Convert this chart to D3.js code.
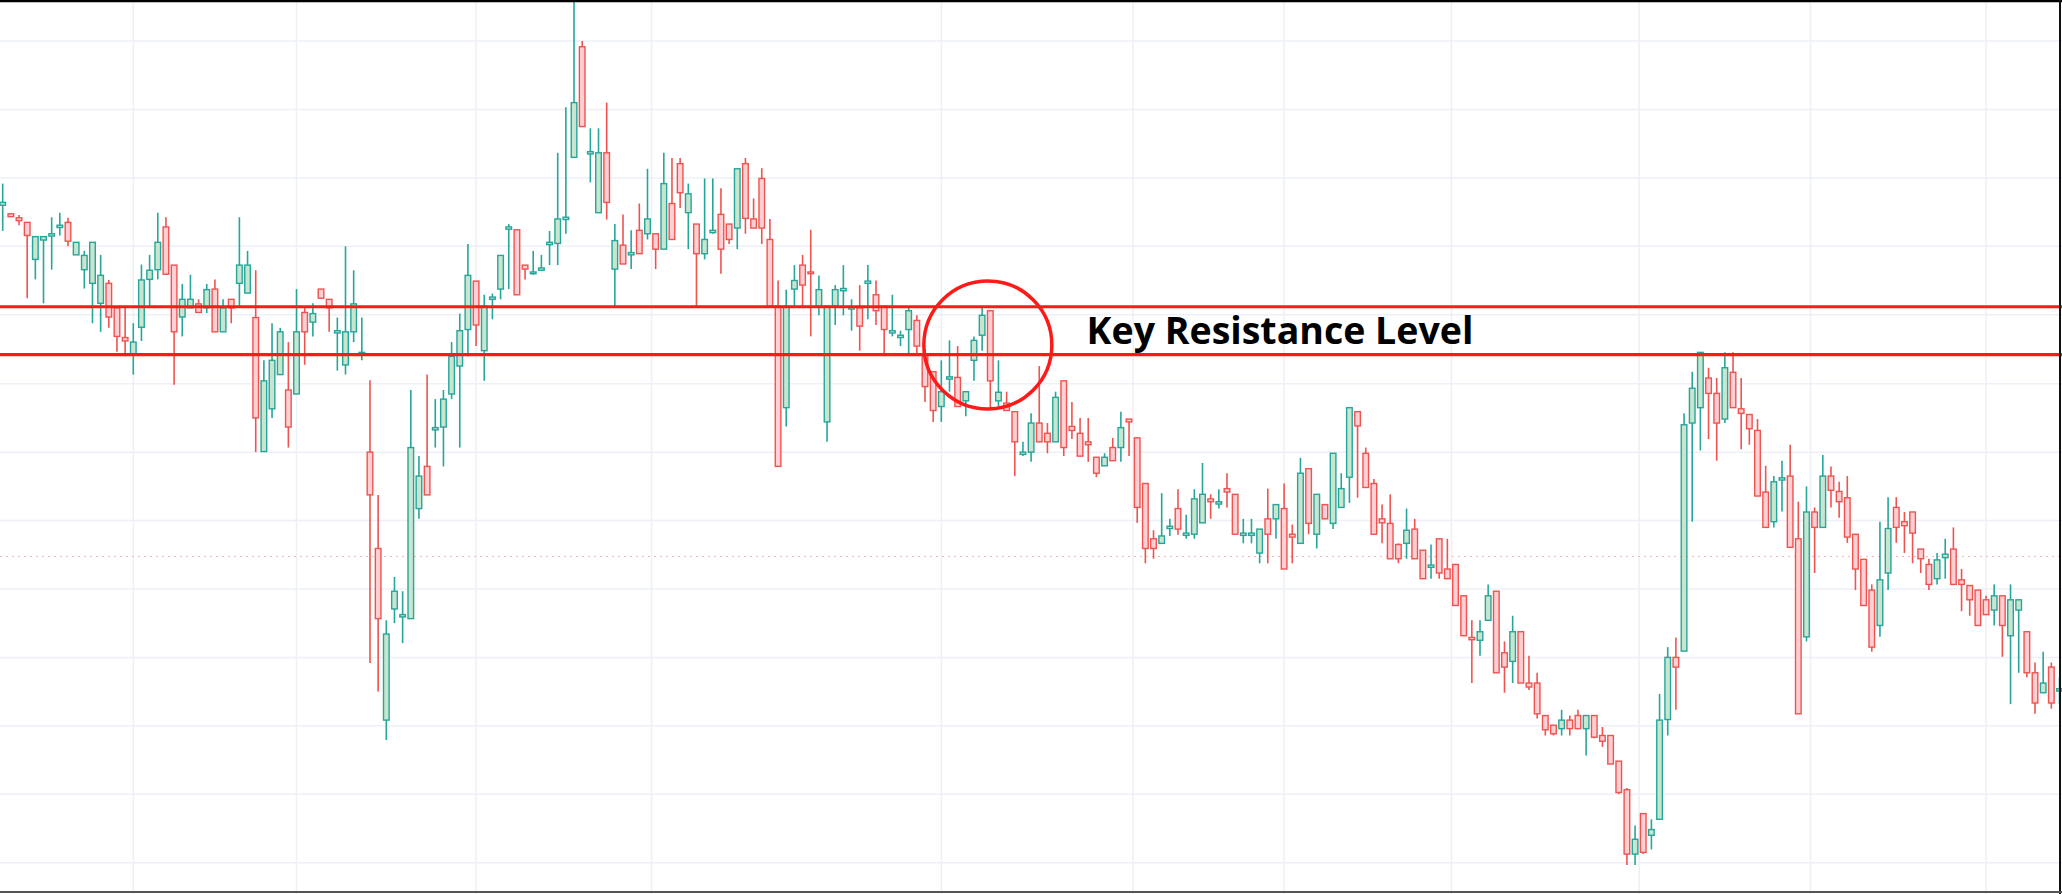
<!DOCTYPE html>
<html>
<head>
<meta charset="utf-8">
<script src="https://cdn.jsdelivr.net/npm/d3@7"></script>
<style>
  html, body { margin: 0; padding: 0; background: #fff; }
  svg { display: block; }
</style>
</head>
<body>
<div id="chart"></div>
<script>
// candle prices (index 1..253)
const opens = [1240,1225,1218,1210,1145,1179,1186,1201,1210,1153,1127,1103,1068,1103,1060,1008,977,1026,1110,1127,
  1202,1135,1044,1060,1067,1060,1093,1018,1075,1103,1086,1043,808,883,943,916,909,1052,1035,1093,
  1075,1016,960,1018,978,807,638,337,532,518,515,708,782,846,851,909,958,1022,1107,985,
  1075,1093,1198,1197,1135,1120,1126,1171,1173,1215,1324,1518,1330,1227,1332,1128,1170,1153,1196,1190,
  1190,1163,1243,1313,1227,1207,1155,1192,1224,1207,1200,1313,1216,1287,1180,1063,885,1093,1135,1123,
  1063,860,1063,1090,1058,1060,1103,1083,1063,1016,1008,1022,1038,978,948,887,935,938,897,968,
  1012,1055,897,893,878,803,807,858,840,825,932,852,840,825,798,783,815,815,865,832,
  752,655,647,673,708,661,663,683,725,716,743,733,661,661,630,690,690,708,663,647,
  778,663,715,682,710,763,878,805,752,690,682,645,647,672,635,605,655,602,610,555,
  482,477,512,563,455,440,492,402,402,345,328,322,337,345,322,345,310,310,265,215,
  102,173,135,163,338,447,458,858,885,937,910,865,947,883,873,845,737,685,758,765,
  655,483,702,675,765,738,727,663,619,565,503,595,710,685,702,637,610,585,622,637,
  583,573,565,548,530,555,485,530,492,420,385,430,388];
const highs = [1278,1225,1223,1210,1185,1185,1219,1227,1218,1175,1160,1175,1153,1109,1060,1060,1033,1136,1153,1227,
  1219,1135,1102,1118,1075,1102,1110,1075,1075,1219,1160,1126,968,1033,1025,1000,1093,1060,1068,1093,
  1075,1043,1168,1126,1043,933,732,512,588,563,916,800,943,900,916,1000,1050,1172,1107,1083,
  1085,1152,1207,1197,1135,1160,1153,1195,1332,1412,1600,1528,1375,1375,1420,1207,1224,1196,1243,1304,
  1190,1332,1323,1323,1278,1207,1287,1287,1270,1207,1304,1323,1252,1305,1216,1108,1092,1135,1153,1197,
  1117,1063,1100,1135,1075,1100,1135,1108,1063,1083,1020,1063,1047,988,948,968,1003,993,913,1010,
  1063,1055,968,913,878,825,875,958,858,913,932,895,867,867,798,805,832,878,865,832,
  752,670,735,690,742,697,742,788,733,742,770,733,690,690,672,743,715,752,680,797,
  778,733,715,805,770,885,878,815,760,715,733,647,708,690,635,645,655,655,610,555,
  512,512,575,563,475,520,492,450,420,345,328,355,345,355,345,345,325,310,265,218,
  152,173,163,383,465,482,875,948,982,955,937,982,982,937,873,865,783,765,792,820,
  720,747,710,802,782,755,765,663,619,575,685,728,728,702,702,637,620,630,655,675,
  602,573,565,555,575,555,575,548,492,438,457,438,412];
const lows = [1195,1220,1205,1077,1110,1068,1127,1187,1168,1153,1094,1033,1018,1025,983,975,943,1002,1060,1110,
  1119,925,1010,1060,1052,1051,1018,1018,1033,1060,1086,807,808,867,943,815,909,960,1010,1077,
  1018,950,943,1000,968,437,387,302,507,472,515,690,732,815,782,900,815,975,993,932,
  1040,1075,1093,1083,1110,1118,1125,1135,1135,1190,1324,1378,1280,1227,1215,1063,1137,1128,1155,1180,
  1128,1163,1180,1235,1163,1063,1145,1190,1120,1172,1163,1190,1200,1172,1063,782,852,1063,1063,1010,
  1047,825,1030,1047,1020,985,1040,1030,978,1010,993,978,978,895,860,860,913,887,870,932,
  985,883,887,880,765,800,790,825,805,825,800,830,800,790,763,783,792,790,800,683,
  612,620,647,660,662,655,655,683,690,708,710,663,647,647,612,612,655,602,612,647,
  663,638,690,672,710,718,727,745,663,647,620,612,620,620,585,585,585,585,538,485,
  402,450,512,420,385,402,402,390,340,310,310,310,310,322,275,305,290,260,207,83,
  83,102,110,163,310,355,458,685,810,830,792,858,885,812,820,730,675,675,703,640,
  348,475,595,675,710,692,648,565,538,457,483,565,648,630,612,595,565,575,585,575,
  528,520,503,522,503,448,365,420,412,348,385,357,365];
const closes = [1245,1220,1213,1187,1185,1185,1190,1205,1177,1175,1152,1175,1117,1044,1010,1002,1000,1109,1126,1175,
  1119,1018,1075,1075,1052,1092,1018,1060,1060,1135,1135,867,932,968,1018,851,1018,1018,1050,1077,
  1060,1020,1018,1067,982,732,515,488,563,522,815,765,732,850,900,975,1020,1117,1030,1063,
  1079,1152,1202,1083,1128,1123,1130,1175,1216,1219,1420,1378,1334,1332,1245,1178,1137,1157,1155,1216,
  1163,1278,1180,1262,1260,1155,1180,1196,1163,1180,1304,1217,1200,1200,1063,782,1063,1108,1100,1120,
  1092,1063,1092,1094,1062,1028,1107,1055,1022,1020,1012,1055,993,922,880,913,939,887,913,1003,
  1047,932,912,880,825,807,858,825,825,903,815,845,800,820,770,798,792,850,860,710,
  638,638,660,677,672,665,725,733,720,720,737,663,665,665,672,663,715,602,658,770,
  682,733,690,805,743,885,853,745,663,683,620,620,670,620,585,609,595,585,538,485,
  478,492,555,420,430,492,402,395,348,320,313,337,322,322,345,307,300,260,210,102,
  128,105,145,337,447,430,855,919,982,910,858,955,885,875,848,730,675,755,762,640,
  348,702,675,765,740,720,658,602,538,465,583,673,675,678,665,620,575,618,628,575,
  575,548,503,522,555,503,548,548,420,367,402,367,392];

// horizontal grid prices, vertical grid positions (candle index)
const priceGrid = [1528,1408,1288,1168,1048,927,807,687,567,447,327,207,87];
const timeGrid = [17,37,59,80.5,116,139.5,158,178.5,201.5,222.5,244];

// annotation values
const resistance = [1062, 978];
const lastPrice = 624;
const marker = { index: 121.7, price: 995 };
const label = { index: 133.8, price: 997, text: "Key Resistance Level" };

const W = 2062, H = 894;
const n = opens.length;
const candles = opens.map((o, i) => ({ i: i + 1, o, h: highs[i], l: lows[i], c: closes[i] }));

const svg = d3.select("#chart").append("svg").attr("width", W).attr("height", H);

const x = d3.scaleLinear().domain([1, n]).range([2.7, 2059.5]);
const y = d3.scaleLinear().domain([32, 1600]).range([H, 0]);

// grid
svg.append("g").selectAll("line").data(priceGrid).enter().append("line")
  .attr("x1", 0).attr("x2", W).attr("y1", d => y(d)).attr("y2", d => y(d))
  .attr("stroke", "#edf0f7").attr("stroke-width", 1.5);
svg.append("g").selectAll("line").data(timeGrid).enter().append("line")
  .attr("y1", 0).attr("y2", H).attr("x1", d => x(d)).attr("x2", d => x(d))
  .attr("stroke", "#edf0f7").attr("stroke-width", 1.5);

// last price dotted line
svg.append("line").attr("x1", 0).attr("x2", W).attr("y1", y(lastPrice)).attr("y2", y(lastPrice))
  .attr("stroke", "#f6b3b3").attr("stroke-width", 1).attr("stroke-dasharray", "2,4");

// candles
const up = "#26a69a", down = "#ef5350";
const g = svg.append("g");
g.selectAll("line.wick").data(candles).enter().append("line")
  .attr("class", "wick")
  .attr("x1", d => x(d.i)).attr("x2", d => x(d.i))
  .attr("y1", d => y(d.h)).attr("y2", d => y(d.l))
  .attr("stroke", d => d.c >= d.o ? up : down).attr("stroke-width", 1.6);
g.selectAll("rect").data(candles).enter().append("rect")
  .attr("x", d => x(d.i) - 2.8).attr("width", 5.6)
  .attr("y", d => y(Math.max(d.o, d.c)))
  .attr("height", d => Math.max(1.5, Math.abs(y(d.o) - y(d.c))))
  .attr("fill", d => d.c >= d.o ? "#c8e6cf" : "#ffd0d3")
  .attr("stroke", d => d.c >= d.o ? up : down).attr("stroke-width", 1.4);

// resistance lines
svg.selectAll("line.res").data(resistance).enter().append("line")
  .attr("class", "res")
  .attr("x1", 0).attr("x2", W).attr("y1", d => y(d)).attr("y2", d => y(d))
  .attr("stroke", "#ff1a1a").attr("stroke-width", 3.2);

// circle marker
svg.append("circle").attr("cx", x(marker.index)).attr("cy", y(marker.price)).attr("r", 64)
  .attr("fill", "none").attr("stroke", "#ff1a1a").attr("stroke-width", 3.5);

// label
svg.append("text").attr("x", x(label.index)).attr("y", y(label.price))
  .attr("font-family", "'Open Sans', sans-serif").attr("font-weight", 700)
  .attr("font-size", 37.5).attr("fill", "#000").text(label.text);

// frame
svg.append("line").attr("x1", 0).attr("x2", W).attr("y1", 1).attr("y2", 1).attr("stroke", "#000").attr("stroke-width", 2.5);
svg.append("line").attr("x1", W - 2).attr("x2", W - 2).attr("y1", 0).attr("y2", H).attr("stroke", "#111").attr("stroke-width", 2);
svg.append("line").attr("x1", 0).attr("x2", W).attr("y1", H - 2).attr("y2", H - 2).attr("stroke", "#555").attr("stroke-width", 2);
</script>
</body>
</html>
